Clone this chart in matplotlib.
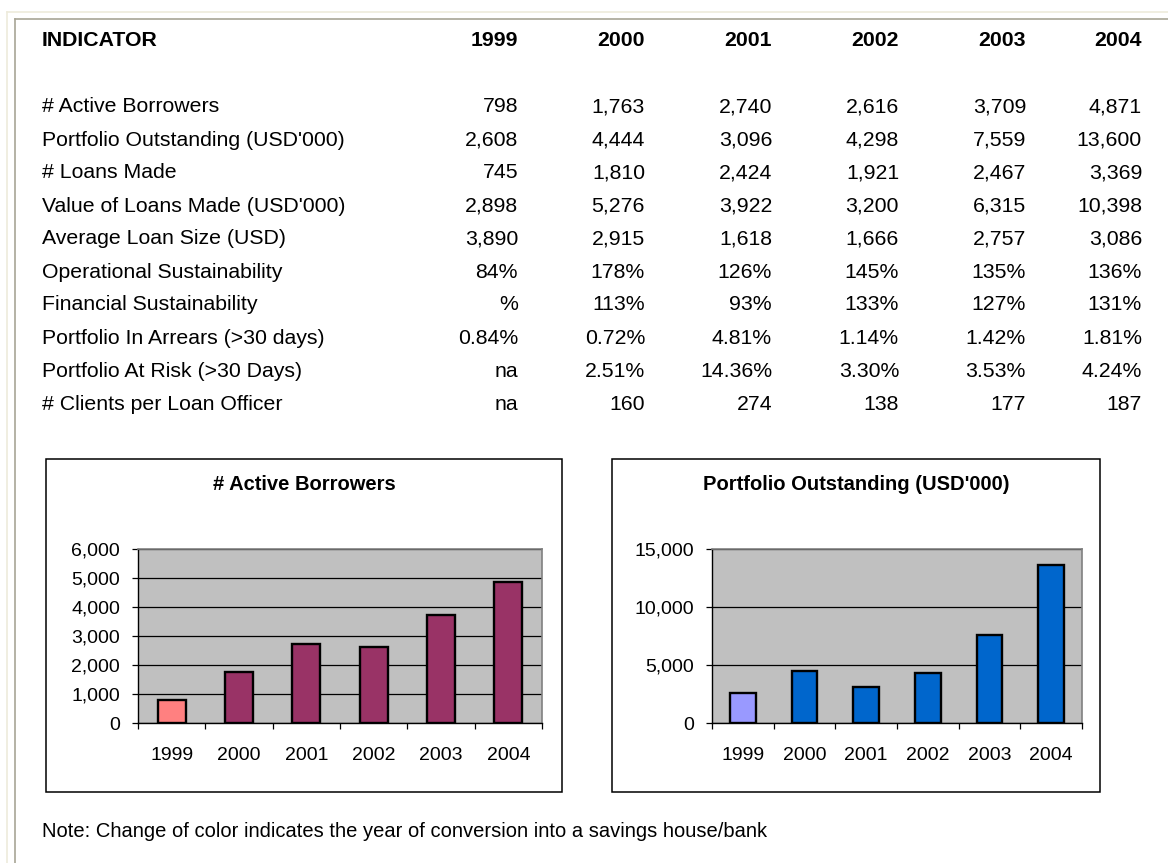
import matplotlib.pyplot as plt
from matplotlib.lines import Line2D
from matplotlib.patches import Rectangle
from matplotlib.ticker import FuncFormatter, FixedLocator

W, H = 1168, 863

years = ['1999', '2000', '2001', '2002', '2003', '2004']

indicators = [
    '# Active Borrowers',
    "Portfolio Outstanding (USD'000)",
    '# Loans Made',
    "Value of Loans Made (USD'000)",
    'Average Loan Size (USD)',
    'Operational Sustainability',
    'Financial Sustainability',
    'Portfolio In Arrears (>30 days)',
    'Portfolio At Risk (>30 Days)',
    '# Clients per Loan Officer',
]

active_borrowers = [798, 1763, 2740, 2616, 3709, 4871]
portfolio_outstanding = [2608, 4444, 3096, 4298, 7559, 13600]
loans_made = [745, 1810, 2424, 1921, 2467, 3369]
value_loans_made = [2898, 5276, 3922, 3200, 6315, 10398]
avg_loan_size = [3890, 2915, 1618, 1666, 2757, 3086]
op_sustainability = ['84%', '178%', '126%', '145%', '135%', '136%']
fin_sustainability = ['%', '113%', '93%', '133%', '127%', '131%']
arrears = ['0.84%', '0.72%', '4.81%', '1.14%', '1.42%', '1.81%']
at_risk = ['na', '2.51%', '14.36%', '3.30%', '3.53%', '4.24%']
clients_per_officer = ['na', '160', '274', '138', '177', '187']

note = 'Note: Change of color indicates the year of conversion into a savings house/bank'


def fmt(v):
    return f'{v:,.0f}'


rows = [
    [fmt(v) for v in active_borrowers],
    [fmt(v) for v in portfolio_outstanding],
    [fmt(v) for v in loans_made],
    [fmt(v) for v in value_loans_made],
    [fmt(v) for v in avg_loan_size],
    op_sustainability,
    fin_sustainability,
    arrears,
    at_risk,
    clients_per_officer,
]

plt.rcParams['font.family'] = ['Liberation Sans', 'DejaVu Sans']

fig = plt.figure(figsize=(W / 100, H / 100), dpi=100)
fig.patch.set_facecolor('white')


def fx(x):
    return x / W


def fy(y):
    return 1 - y / H


# page frame lines
fig.add_artist(Line2D([fx(7), 1], [fy(12), fy(12)], color='#eeebdc', lw=1.2))
fig.add_artist(Line2D([fx(7), fx(7)], [fy(12), 0], color='#eeebdc', lw=1.2))
fig.add_artist(Line2D([fx(15), 1], [fy(19), fy(19)], color='#a8a596', lw=1.2))
fig.add_artist(Line2D([fx(15), fx(15)], [fy(19), 0], color='#a8a596', lw=1.2))

# table
fs_table = 15.3
col_right = [518, 645, 772, 899, 1026, 1142]
fig.text(fx(42), fy(46), 'INDICATOR', fontsize=fs_table, fontweight='bold',
         ha='left', va='baseline')
for x, yr in zip(col_right, years):
    fig.text(fx(x), fy(46), yr, fontsize=fs_table, fontweight='bold',
             ha='right', va='baseline')

y0, dy = 112.5, 33.0
for i, (name, vals) in enumerate(zip(indicators, rows)):
    y = y0 + i * dy
    fig.text(fx(42), fy(y), name, fontsize=fs_table, ha='left', va='baseline')
    for x, v in zip(col_right, vals):
        fig.text(fx(x), fy(y), v, fontsize=fs_table, ha='right', va='baseline')


def bar_chart(box, area, values, colors, ymax, ystep, title):
    bx0, by0, bx1, by1 = box
    fig.add_artist(Rectangle((fx(bx0), fy(by1)), fx(bx1 - bx0), (by1 - by0) / H,
                             fill=False, edgecolor='black', lw=1.1))
    ax0, ay0, ax1, ay1 = area
    ax = fig.add_axes([fx(ax0), fy(ay1), fx(ax1 - ax0), (ay1 - ay0) / H])
    ax.set_facecolor('#c0c0c0')
    x = list(range(len(values)))
    ax.bar(x, values, width=0.42, color=colors, edgecolor='black', lw=1.7, zorder=3)
    ax.set_xlim(-0.5, len(values) - 0.5)
    ax.set_ylim(0, ymax)
    ax.yaxis.set_major_locator(FixedLocator(list(range(0, ymax + 1, ystep))))
    ax.yaxis.set_major_formatter(FuncFormatter(lambda v, p: f'{v:,.0f}'))
    ax.grid(axis='y', color='black', lw=0.9, zorder=1)
    ax.set_axisbelow(True)
    ax.xaxis.set_major_locator(FixedLocator([i - 0.5 for i in range(len(values) + 1)]))
    ax.xaxis.set_minor_locator(FixedLocator(x))
    ax.set_xticklabels([], minor=False)
    ax.set_xticklabels(years, minor=True)
    ax.tick_params(axis='x', which='major', length=4, width=0.9, direction='out')
    ax.tick_params(axis='x', which='minor', length=0, pad=17, labelsize=14)
    ax.tick_params(axis='y', length=4, width=0.9, direction='out', pad=9, labelsize=14)
    for s in ['top', 'right']:
        ax.spines[s].set_color('#808080')
        ax.spines[s].set_linewidth(1.2)
    for s in ['left', 'bottom']:
        ax.spines[s].set_color('black')
        ax.spines[s].set_linewidth(1.0)
    fig.text(fx((bx0 + bx1) / 2), fy(490), title, fontsize=14.5, fontweight='bold',
             ha='center', va='baseline')
    return ax


bar_chart((46, 459, 562, 792), (138, 549, 542, 723), active_borrowers,
          ['#ff8080'] + ['#993366'] * 5, 6000, 1000, '# Active Borrowers')
bar_chart((612, 459, 1100, 792), (712, 549, 1082, 723), portfolio_outstanding,
          ['#9999ff'] + ['#0066cc'] * 5, 15000, 5000, "Portfolio Outstanding (USD'000)")

fig.text(fx(42), fy(837), note, fontsize=14.5, ha='left', va='baseline')

fig.savefig('out.png', dpi=100, facecolor='white')
